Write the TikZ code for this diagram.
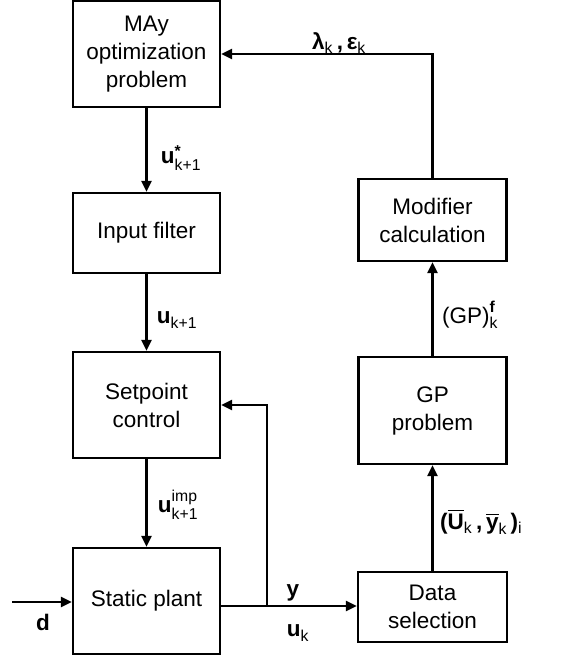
\documentclass[tikz,border=0pt]{standalone}
\usepackage{amsmath}
\usepackage{fontspec}
\setmainfont{Liberation Sans}
\usetikzlibrary{arrows.meta}
\begin{document}
\begin{tikzpicture}[x=1pt,y=-1pt,
  blk/.style={draw,line width=2.2pt,align=center,font=\fontsize{22.5}{28}\selectfont,inner sep=0pt},
  conn/.style={line width=2.2pt,-{Triangle[length=11pt,width=10pt]}},
  plain/.style={line width=2.2pt},
  lbl/.style={font=\fontsize{22.5}{27}\selectfont,inner sep=0pt}]
\useasboundingbox (0,0) rectangle (568,661);
\node[blk,minimum width=147pt,minimum height=106pt] (may) at (146.5,54) {MAy\\optimization\\problem};
\node[blk,minimum width=147pt,minimum height=80pt] (filt) at (146.5,233) {Input filter};
\node[blk,minimum width=147pt,minimum height=106pt] (sp) at (146.5,405) {Setpoint\\control};
\node[blk,minimum width=147pt,minimum height=106pt] (plant) at (146.5,601) {Static plant};
\node[blk,minimum width=148pt,minimum height=82pt] (mod) at (432.5,220) {Modifier\\calculation};
\node[blk,minimum width=148pt,minimum height=107pt] (gp) at (432.5,410.5) {GP\\problem};
\node[blk,minimum width=149pt,minimum height=70pt] (data) at (432.5,607) {Data\\selection};
\coordinate (dstart) at (12,602);
\coordinate (corner) at (mod.north |- may.east);
\coordinate (branch) at (267,606);
\coordinate (spin) at (267,405);
\draw[conn] (may) -- (filt);
\draw[conn] (filt) -- (sp);
\draw[conn] (sp) -- (plant);
\draw[conn] (mod.north) -- (corner) -- (may.east);
\draw[conn] (data) -- (gp);
\draw[conn] (gp) -- (mod);
\draw[conn] (plant.east |- branch) -- (data.west |- branch);
\draw[conn] (branch) -- (spin) -- (sp.east);
\draw[conn] (dstart) -- (plant.west |- dstart);
\node[lbl] (l1) at (339,43) {$\textbf{λ}_{\text{k}}$\,\textbf{,}\,$\textbf{ε}_{\text{k}}$};
\node[lbl] (l2) at (181,158) {$\textbf{u}^{\textbf{*}}_{\text{k+1}}$};
\node[lbl] (l3) at (177,320) {$\textbf{u}_{\text{k+1}}$};
\node[lbl] (l4) at (178,505) {$\textbf{u}^{\text{imp}}_{\text{k+1}}$};
\node[lbl] (l5) at (293,593) {\textbf{y}};
\node[lbl] (l6) at (298,633) {$\textbf{u}_{\text{k}}$};
\node[lbl] (l7) at (43,622) {\textbf{d}};
\node[lbl] (l8) at (470,315) {$\text{(GP)}^{\textbf{f}}_{\text{k}}$};
\node[lbl,anchor=west] (l9) at (440,522) {\textbf{(}$\overline{\textbf{U}}_{\text{k}}$\,\textbf{,}\,$\overline{\textbf{y}}_{\text{k}}$\,\textbf{)}$_{\text{i}}$};
\end{tikzpicture}
\end{document}
